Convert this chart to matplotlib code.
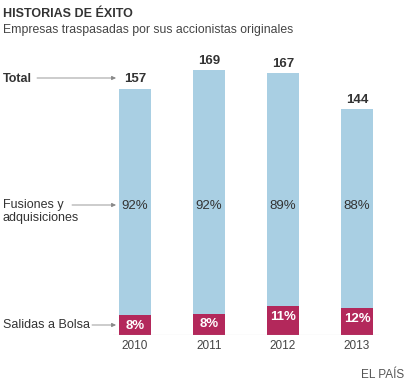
import numpy as np
import matplotlib
matplotlib.use("Agg")
import matplotlib.pyplot as plt

plt.rcParams['font.family'] = ['Liberation Sans', 'DejaVu Sans']

years = ['2010', '2011', '2012', '2013']
totals = [157, 169, 167, 144]
pct_fusiones = [92, 92, 89, 88]
pct_bolsa = [8, 8, 11, 12]

W, H = 414, 385
blue = '#a9cfe3'
red = '#b3285b'
txt = '#333333'

def fx(x):
    return x / W

def fy(y):
    return 1 - y / H

fig = plt.figure(figsize=(W / 100, H / 100), dpi=100)

# axes placed in pixel space: baseline at y=335, 1.568 px per unit
scale = 1.568
top_px = 60
ax = fig.add_axes([fx(113), fy(335), (379 - 113) / W, (335 - top_px) / H])
ax.set_xlim(-22 / 74, 3 + 22 / 74)
ax.set_ylim(0, (335 - top_px) / scale)
ax.axis('off')

x = np.arange(len(years))
tot = np.array(totals, dtype=float)
bolsa = tot * np.array(pct_bolsa) / 100
fus = tot - bolsa
ax.bar(x, bolsa, width=0.432, color=red, linewidth=0)
ax.bar(x, fus, bottom=bolsa, width=0.432, color=blue, linewidth=0)
ax.axhline(0, color='#bbbbbb', lw=0.8)

for i in range(len(years)):
    ax.text(x[i], tot[i] + 2.2, str(totals[i]), ha='center', va='bottom',
            fontsize=9.5, fontweight='bold', color=txt)
    ax.text(x[i], 82, f'{pct_fusiones[i]}%', ha='center', va='center',
            fontsize=9.5, color=txt)
    ax.text(x[i], bolsa[i] - 6.8, f'{pct_bolsa[i]}%', ha='center', va='center',
            fontsize=9.5, fontweight='bold', color='white')
    ax.text(x[i], -7, years[i], ha='center', va='center', fontsize=8.5,
            color='#444444')

fig.text(fx(3), fy(14), 'HISTORIAS DE ÉXITO', fontsize=9, fontweight='bold',
         color=txt, va='center', ha='left')
fig.text(fx(3), fy(30), 'Empresas traspasadas por sus accionistas originales',
         fontsize=8.8, color='#444444', va='center', ha='left')

fig.text(fx(3), fy(79), 'Total', fontsize=9, fontweight='bold', color=txt,
         va='center', ha='left')
fig.text(fx(3), fy(211.5), 'Fusiones y\nadquisiciones', fontsize=9, color=txt,
         va='center', ha='left', linespacing=1.15)
fig.text(fx(3), fy(325), 'Salidas a Bolsa', fontsize=9, color=txt,
         va='center', ha='left')

arrows = [(37, 78), (72, 205), (92, 325)]
for x0, y0 in arrows:
    fig.add_artist(matplotlib.patches.FancyArrowPatch(
        (fx(x0), fy(y0)), (fx(116), fy(y0)), transform=fig.transFigure,
        arrowstyle='-|>,head_length=2.5,head_width=1.2', color='#888888',
        lw=0.6, shrinkA=0, shrinkB=0))

fig.text(fx(404), fy(375), 'EL PAÍS', fontsize=8.5, color='#555555',
         va='center', ha='right')

fig.savefig('out.png', dpi=100, facecolor='white')
